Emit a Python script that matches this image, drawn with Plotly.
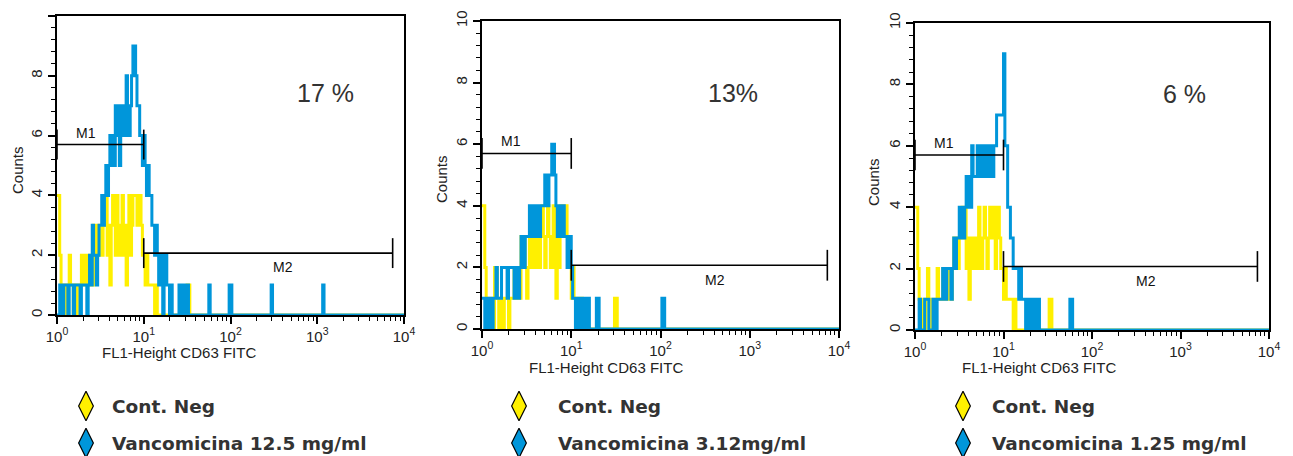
import numpy as np
import plotly.graph_objects as go

# ---------------- data ----------------
N_CHANNELS = 256          # channels spread over 4 log decades
DECADES = 4

panel_titles_pct = ["17 %", "13%", "6 %"]
legend_neg = "Cont. Neg"
legend_vanco = ["Vancomicina 12.5 mg/ml", "Vancomicina 3.12mg/ml", "Vancomicina 1.25 mg/ml"]

# counts per channel (channel 0 = 10^0, channel 64 = 10^1 ...), head part
p1_blue_head = [0, 0, 1, 1, 0, 1, 1, 1, 0, 1,
                1, 1, 0, 1, 1, 1, 1, 0, 1, 1,
                1, 1, 0, 1, 2, 1, 3, 2, 2, 1,
                2, 3, 3, 4, 3, 4, 5, 4, 5, 6,
                5, 6, 5, 7, 6, 7, 5, 7, 6, 7,
                6, 8, 7, 6, 7, 8, 9, 9, 8, 7,
                7, 6, 6, 5, 6, 5, 4, 5, 4, 4,
                3, 3, 2, 3, 2, 1, 2, 1, 0, 2,
                2, 1, 1, 0, 1]
p1_blue_spikes = [90, 91, 93, 94, 96, 112, 127, 128, 158, 196]
p1_yellow_head = [4, 4, 2, 1, 0, 1, 0, 0, 1, 2,
                  1, 1, 0, 1, 0, 1, 1, 1, 2, 1,
                  1, 2, 1, 2, 1, 2, 1, 3, 2, 2,
                  3, 2, 3, 2, 3, 4, 4, 2, 3, 1,
                  3, 4, 3, 2, 4, 3, 2, 3, 4, 2,
                  3, 1, 3, 4, 2, 3, 4, 4, 4, 3,
                  4, 4, 3, 2, 2, 1, 2, 1, 1, 1,
                  1, 1, 0, 1, 0]
p1_yellow_spikes = [96, 97]

p2_blue_head = [1, 1, 0, 1, 0, 1, 1, 0, 1, 1,
                2, 1, 1, 1, 2, 2, 2, 2, 1, 2,
                2, 2, 2, 1, 2, 2, 1, 2, 3, 3,
                2, 3, 3, 3, 4, 4, 3, 4, 3, 4,
                4, 3, 4, 4, 4, 5, 4, 4, 5, 5,
                6, 6, 5, 4, 3, 4, 4, 3, 4, 3,
                3, 2, 3, 3, 2, 1, 1, 0, 1, 1,
                0, 1, 0, 1, 1, 0, 1]
p2_blue_spikes = [82, 83, 129, 130]
p2_yellow_head = [4, 4, 2, 1, 0, 1, 0, 1, 0, 2,
                  2, 1, 0, 1, 1, 0, 1, 1, 1, 0,
                  1, 1, 1, 2, 2, 1, 2, 1, 3, 2,
                  3, 2, 1, 2, 3, 2, 3, 2, 3, 2,
                  3, 2, 3, 4, 3, 2, 3, 4, 3, 2,
                  3, 4, 2, 1, 3, 2, 4, 4, 3, 4,
                  4, 3, 2, 2, 1, 2, 1, 1, 1, 0,
                  1, 1, 0]
p2_yellow_spikes = [95, 96]

p3_blue_head = [0, 0, 0, 1, 0, 0, 0, 1, 1, 1,
                0, 0, 0, 1, 0, 0, 1, 1, 1, 1,
                2, 1, 1, 2, 2, 2, 1, 2, 3, 2,
                3, 3, 4, 3, 4, 3, 4, 5, 4, 5,
                4, 6, 5, 5, 5, 6, 5, 5, 6, 5,
                6, 5, 6, 5, 6, 6, 5, 6, 6, 7,
                7, 7, 7, 7, 9, 6, 6, 4, 4, 3,
                3, 2, 2, 2, 2, 1, 2, 1, 1, 1,
                0, 1, 1, 0, 1, 1, 0, 1, 0, 1,
                0]
p3_blue_spikes = [112, 113]
p3_yellow_head = [4, 4, 2, 1, 0, 1, 1, 0, 1, 2,
                  1, 1, 0, 0, 1, 1, 2, 1, 1, 1,
                  2, 1, 2, 2, 1, 2, 1, 2, 3, 2,
                  3, 2, 3, 3, 4, 3, 4, 2, 3, 1,
                  3, 2, 3, 2, 3, 2, 4, 3, 2, 3,
                  4, 3, 2, 3, 4, 4, 3, 4, 2, 4,
                  4, 3, 2, 2, 1, 2, 1, 1, 1, 1,
                  1, 0, 1, 0, 0, 0]
p3_yellow_spikes = [97, 98]

# marker gates
gate_labels = ["M1", "M2"]
gate_start = [1, 10]
gate_end = [10, 7400]
gate_level = [5.7, 2.07]

# tick labels
x_tickvals = [1, 10, 100, 1000, 10000]
x_ticktext = ["10<sup>0</sup>", "10<sup>1</sup>", "10<sup>2</sup>", "10<sup>3</sup>", "10<sup>4</sup>"]
y_tickvals = [0, 2, 4, 6, 8, 10]

# ---------------- styling ----------------
YELLOW = "#FFF000"
BLUE = "#0096DA"
W, H = 1293, 456
OFF = 8  # page body margin of the browser

# pixel boxes of each plot in the target picture: (left, right, top, bottom)
boxes = [(57, 404, 16, 315), (482, 839, 21, 329), (915, 1269, 23, 330)]
counts_pos = [(17, 170), (441, 179), (874, 182)]
xtitle_pos = [(100, 352), (527, 367), (960, 367)]
pct_pos = [(325, 93), (733, 93), (1184, 94)]
legend_x = [(86, 110), (519, 556), (963, 990)]
legend_y = [406, 443]


def px_x(v):
    return (v - OFF) / W


def px_y(v):
    return 1 - (v - OFF) / H


def full_counts(head, spikes):
    arr = np.zeros(N_CHANNELS)
    arr[:len(head)] = head
    for c in spikes:
        arr[c] += 1
    return arr


def step_xy(counts):
    edges = np.logspace(0, DECADES, N_CHANNELS + 1)
    x = [float(v) for v in edges]
    y = [float(v) for v in counts] + [float(counts[-1])]
    return x, y


panels = [
    (p1_yellow_head, p1_yellow_spikes, p1_blue_head, p1_blue_spikes),
    (p2_yellow_head, p2_yellow_spikes, p2_blue_head, p2_blue_spikes),
    (p3_yellow_head, p3_yellow_spikes, p3_blue_head, p3_blue_spikes),
]

fig = go.Figure()
annotations = []
layout_axes = {}

for i, (yh, ys, bh, bs) in enumerate(panels):
    n = i + 1
    sfx = "" if n == 1 else str(n)
    xa, ya = "x" + sfx, "y" + sfx
    for head, spikes, col in [(yh, ys, YELLOW), (bh, bs, BLUE)]:
        xs, ysv = step_xy(full_counts(head, spikes))
        fig.add_trace(go.Scatter(x=xs, y=ysv, mode="lines", line=dict(color=col, width=3, shape="hv"),
                                 xaxis=xa, yaxis=ya, showlegend=False, hoverinfo="skip"))
    # gates
    for g in range(2):
        x0, x1, lv = gate_start[g], gate_end[g], gate_level[g]
        gx = [x0, x1, None, x0, x0, None, x1, x1]
        gy = [lv, lv, None, lv - 0.5, lv + 0.5, None, lv - 0.5, lv + 0.5]
        fig.add_trace(go.Scatter(x=gx, y=gy, mode="lines", line=dict(color="black", width=1.6),
                                 xaxis=xa, yaxis=ya, showlegend=False, hoverinfo="skip"))
    annotations.append(dict(x=0.33, y=gate_level[0] + 0.4, xref=xa, yref=ya, text=gate_labels[0],
                            xanchor="center", yanchor="middle",
                            showarrow=False, font=dict(family="Liberation Sans", size=14, color="#111")))
    annotations.append(dict(x=2.61, y=gate_level[1] - 0.47, xref=xa, yref=ya, text=gate_labels[1],
                            xanchor="center", yanchor="middle",
                            showarrow=False, font=dict(family="Liberation Sans", size=14, color="#111")))

    l, r, t, b = boxes[i]
    layout_axes["xaxis" + sfx] = dict(
        domain=[px_x(l), px_x(r)], anchor=ya, type="log", range=[0, DECADES],
        tickmode="array", tickvals=x_tickvals, ticktext=x_ticktext,
        tickfont=dict(family="Liberation Sans", size=15, color="#222"),
        minor=dict(ticks="outside", ticklen=4, tickcolor="black", tickwidth=1.2, dtick="D1"),
        showline=True, linecolor="black", linewidth=1.5, mirror=True,
        showgrid=False, zeroline=False, ticks="outside", tickcolor="black",
        tickwidth=1.5, ticklen=7)
    layout_axes["yaxis" + sfx] = dict(
        domain=[px_y(b), px_y(t)], anchor=xa, range=[0, 10],
        tickmode="array", tickvals=y_tickvals, tickangle=-90,
        tickfont=dict(family="Liberation Sans", size=15, color="#222"),
        minor=dict(tickmode="linear", dtick=0.4, tick0=0, ticks="outside", ticklen=4,
                   tickcolor="black", tickwidth=1.2),
        showline=True, linecolor="black", linewidth=1.5, mirror=True,
        showgrid=False, zeroline=False, ticks="outside", tickcolor="black",
        tickwidth=1.5, ticklen=7)

    # texts
    cx, cy = counts_pos[i]
    annotations.append(dict(x=px_x(cx), y=px_y(cy), xref="paper", yref="paper", text="Counts",
                            xanchor="center", yanchor="middle",
                            textangle=-90, showarrow=False,
                            font=dict(family="Liberation Sans", size=15, color="#222")))
    tx, ty = xtitle_pos[i]
    annotations.append(dict(x=px_x(tx), y=px_y(ty), xref="paper", yref="paper",
                            xanchor="left", yanchor="middle",
                            text="FL1-Height CD63 FITC", showarrow=False,
                            font=dict(family="Liberation Sans", size=15, color="#222")))
    px, py = pct_pos[i]
    annotations.append(dict(x=px_x(px), y=px_y(py), xref="paper", yref="paper",
                            xanchor="center", yanchor="middle",
                            text=panel_titles_pct[i], showarrow=False,
                            font=dict(family="Liberation Sans", size=25, color="#333")))
    # legend
    mx, txl = legend_x[i]
    for k, (lab, col) in enumerate([(legend_neg, YELLOW), (legend_vanco[i], BLUE)]):
        annotations.append(dict(x=px_x(txl), y=px_y(legend_y[k]), xref="paper", yref="paper",
                                xanchor="left", yanchor="middle",
                                text="<b>" + lab + "</b>", showarrow=False,
                                font=dict(family="DejaVu Sans", size=18.5, color="#333")))
        fig.add_trace(go.Scatter(x=[mx - OFF], y=[legend_y[k] - OFF], mode="markers",
                                 marker=dict(symbol="diamond-tall", size=21, color=col,
                                             line=dict(color="black", width=1.2)),
                                 xaxis="x4", yaxis="y4", showlegend=False, hoverinfo="skip"))

layout_axes["xaxis4"] = dict(domain=[0, 1], range=[0, W], visible=False, fixedrange=True, anchor="y4")
layout_axes["yaxis4"] = dict(domain=[0, 1], range=[H, 0], visible=False, fixedrange=True, anchor="x4")

fig.update_layout(
    width=W, height=H, margin=dict(l=0, r=0, t=0, b=0, autoexpand=False),
    paper_bgcolor="white", plot_bgcolor="rgba(0,0,0,0)",
    annotations=annotations, showlegend=False,
    **layout_axes,
)

fig.write_html("out.html")
